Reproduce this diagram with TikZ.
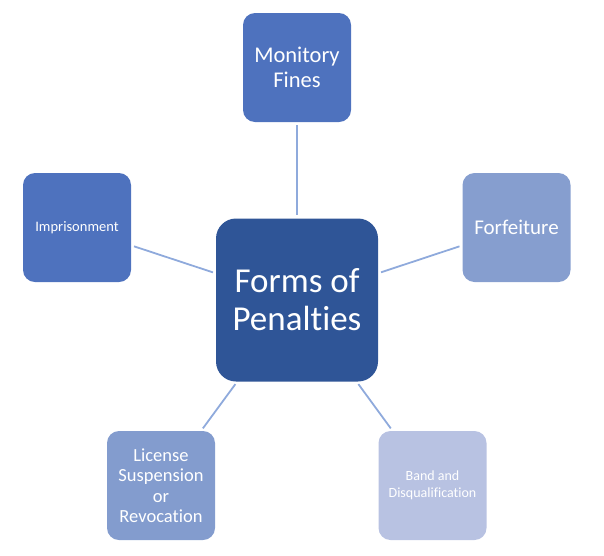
\documentclass[tikz,border=0pt]{standalone}
\usepackage{fontspec}
\setmainfont{Carlito}[Ligatures = NoCommon]
\usetikzlibrary{calc}

\definecolor{hubblue}{HTML}{2F5597}
\definecolor{midblue}{HTML}{4E72BE}
\definecolor{softblue}{HTML}{869ECF}
\definecolor{paleblue}{HTML}{B8C2E2}
\definecolor{linkblue}{HTML}{8FAADC}

\begin{document}
\begin{tikzpicture}
  [
    x = 1pt, y = -1pt,
    every node/.style = {rounded corners = 12pt, text = white, align = center, inner sep = 0pt},
    hub/.style = {fill = hubblue, minimum width = 162pt, minimum height = 163pt, font = \fontsize{35}{38}\selectfont, rounded corners = 20pt},
    leaf/.style = {minimum width = 108pt, minimum height = 109pt},
    link/.style = {draw = linkblue, line width = 1.8pt, shorten < = 3pt, shorten > = 3pt}
  ]
  \useasboundingbox (0,0) rectangle (604,555);

  \node [hub] (Hub) at (297,300) {Forms of\\Penalties};

  \node [leaf, fill = midblue, font = \fontsize{22.5}{25}\selectfont] (Fines) at (297,67.5) {Monitory\\Fines};
  \node [leaf, fill = midblue, font = \fontsize{14.5}{16}\selectfont] (Prison) at (77,227.5) {Imprisonment};
  \node [leaf, fill = softblue, font = \fontsize{21}{24}\selectfont] (Forfeit) at (516.5,227.5) {Forfeiture};
  \node [leaf, fill = softblue!95!midblue, font = \fontsize{18.5}{20.5}\selectfont] (License) at (161,485.5) {License\\Suspension\\or\\Revocation};
  \node [leaf, fill = paleblue, font = \fontsize{14}{16.5}\selectfont] (Band) at (432.5,485.5) {Band and\\Disqualification};

  \draw [link] (Fines) -- (Hub);
  \draw [link] (Prison) -- (Hub);
  \draw [link] (Forfeit) -- (Hub);
  \draw [link] (License) -- (Hub);
  \draw [link] (Band) -- (Hub);
\end{tikzpicture}
\end{document}
